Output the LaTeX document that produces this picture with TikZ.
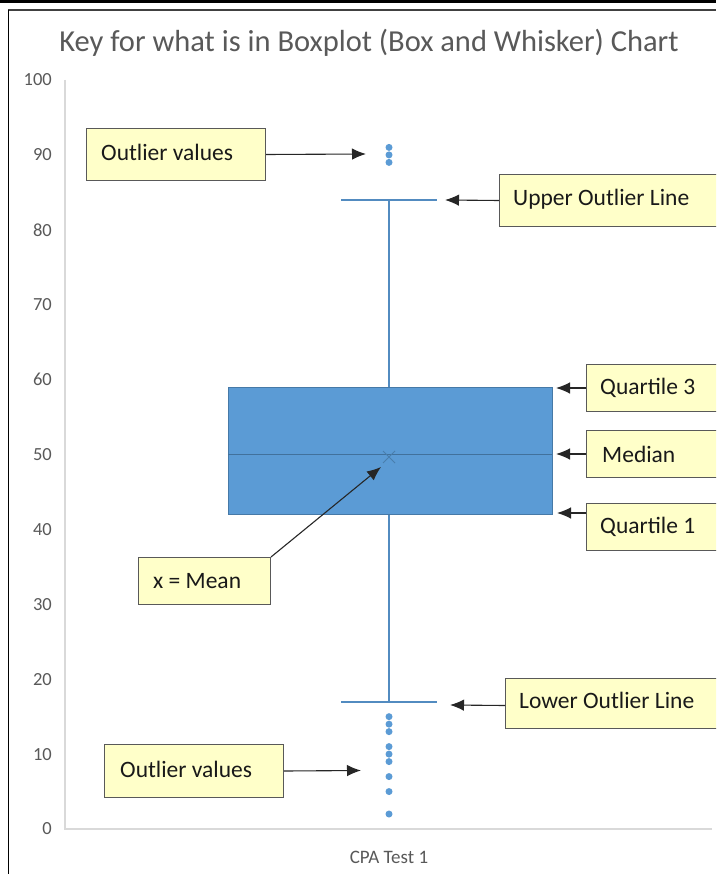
\documentclass[tikz,border=0pt]{standalone}
\usepackage{fontspec}
\setmainfont{Carlito}
\usetikzlibrary{arrows.meta}
\definecolor{boxblue}{HTML}{5B9BD5}
\definecolor{boxedge}{HTML}{41719C}
\definecolor{axisgray}{HTML}{D9D9D9}
\definecolor{txtgray}{HTML}{595959}
\definecolor{keyfill}{HTML}{FFFFC9}
\begin{document}
\begin{tikzpicture}[x=1pt,y=-1pt,
  keybox/.style={draw=black!65, line width=1pt, fill=keyfill, anchor=north west, inner sep=0pt},
  keytext/.style={anchor=west, inner sep=0pt, text=black!90, font=\fontsize{23.5}{28}\selectfont},
  keyarrow/.style={draw=black!85, line width=1.1pt, -{Latex[length=14pt,width=11.5pt]}},
  ticklab/.style={anchor=east, inner sep=0pt, text=txtgray, font=\fontsize{18.5}{22}\selectfont},
  dot/.style={circle, fill=boxblue, draw=none, minimum size=7pt, inner sep=0pt},
  whisk/.style={draw=boxblue!90!black, line width=1.1pt}]
\useasboundingbox (0,0) rectangle (716,874);
\fill[white] (0,0) rectangle (716,874);
\begin{scope}
\clip (0,0) rectangle (716,874);
% frame
\fill[black] (0,0) rectangle (716,3.5);
\draw[black!75, line width=1.2pt] (8,10) -- (716,10);
\draw[black, line width=1.5pt] (8.5,10) -- (8.5,874);
% title
\node[text=txtgray, font=\fontsize{30.5}{34}\selectfont] (title) at (369,43) {Key for what is in Boxplot (Box and Whisker) Chart};
% axes
\draw[axisgray, line width=1.2pt] (65,80) -- (65,829) -- (712,829);
\foreach \v in {0,10,...,100} {
  \node[ticklab] (t\v) at (52,829-7.49*\v) {\v};
}
\node[text=txtgray, font=\fontsize{19}{22}\selectfont] (cat) at (389,857) {CPA Test 1};
% whiskers
\draw[whisk] (389,200) -- (389,387);
\draw[whisk] (389,514) -- (389,702);
\draw[whisk] (341,200) -- (437,200);
\draw[whisk] (341,702) -- (437,702);
% box
\draw[fill=boxblue, draw=boxedge!80!boxblue, line width=1pt] (228,387) rectangle (552,514);
\draw[boxedge, line width=1pt] (228,454) -- (552,454);
\draw[boxedge!70!boxblue, line width=1pt] (383,451) -- (395,463) (383,463) -- (395,451);
% outliers
\foreach \v in {89,90,91,15,14,13,11,10,9,7,5,2} {
  \node[dot] at (389,829-7.49*\v) {};
}
% key boxes
\node[keybox, minimum width=179pt, minimum height=52pt] (outtop) at (86,128) {};
\node[keytext] at (101,152) {Outlier values};
\node[keybox, minimum width=230pt, minimum height=52pt] (upper) at (499,174) {};
\node[keytext] at (513,199) {Upper Outlier Line};
\node[keybox, minimum width=140pt, minimum height=47pt] (q3) at (586,364) {};
\node[keytext] at (600,388) {Quartile 3};
\node[keybox, minimum width=140pt, minimum height=47pt] (med) at (586,430) {};
\node[keytext] at (602,454) {Median};
\node[keybox, minimum width=140pt, minimum height=47pt] (q1) at (586,503) {};
\node[keytext] at (600,527) {Quartile 1};
\node[keybox, minimum width=132pt, minimum height=47pt] (mean) at (138,557) {};
\node[keytext] at (153,581) {x = Mean};
\node[keybox, minimum width=225pt, minimum height=50pt] (lower) at (505,678) {};
\node[keytext] at (519,700) {Lower Outlier Line};
\node[keybox, minimum width=179pt, minimum height=53pt] (outbot) at (104,744) {};
\node[keytext] at (120,769) {Outlier values};
% arrow targets
\coordinate (aOutTop) at (366,154);
\coordinate (aUpper) at (445,200);
\coordinate (aQ3) at (556,388);
\coordinate (aMed) at (556,454);
\coordinate (aQ1) at (557,513);
\coordinate (aMean) at (381,467);
\coordinate (aLower) at (450,705);
\coordinate (aOutBot) at (361,770.5);
% arrows
\draw[keyarrow] (outtop.east) -- (aOutTop);
\draw[keyarrow] (upper.west) -- (aUpper);
\draw[keyarrow] (q3.west) -- (aQ3);
\draw[keyarrow] (med.west) -- (aMed);
\draw[keyarrow] (q1.north west) ++(0,10) -- (aQ1);
\draw[keyarrow] (mean.north east) -- (aMean);
\draw[keyarrow] (lower.west) ++(0,2) -- (aLower);
\draw[keyarrow] (outbot.east) -- (aOutBot);
\end{scope}
\end{tikzpicture}
\end{document}
